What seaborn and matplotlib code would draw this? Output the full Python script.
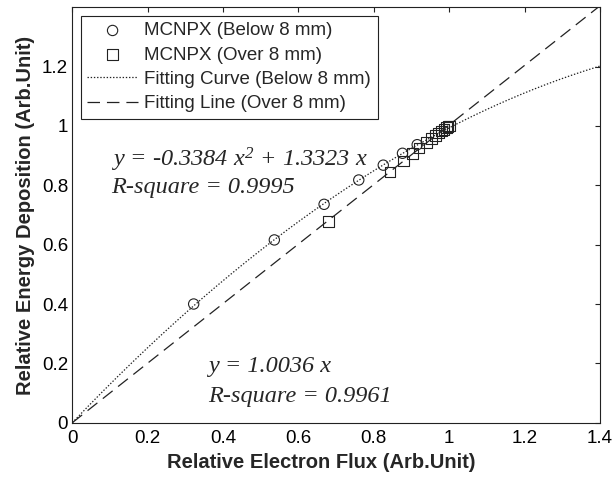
import numpy as np
import pandas as pd
import matplotlib
matplotlib.use("Agg")
import matplotlib.pyplot as plt
import seaborn as sns

# Simulated points, depth below 8 mm
below_flux = [0.322, 0.536, 0.668, 0.760, 0.825, 0.876, 0.915]
below_dep = [0.400, 0.616, 0.736, 0.818, 0.868, 0.908, 0.937]

# Simulated points, depth over 8 mm
over_flux = [0.680, 0.843, 0.878, 0.903, 0.920, 0.940, 0.953, 0.963,
             0.972, 0.980, 0.986, 0.992, 0.997, 1.000]
over_dep = [0.678, 0.845, 0.882, 0.906, 0.926, 0.945, 0.958, 0.968,
            0.976, 0.983, 0.989, 0.995, 0.999, 1.000]

# Fit coefficients
quad_a, quad_b = -0.3384, 1.3323
lin_k = 1.0036

x_ticks = [0, 0.2, 0.4, 0.6, 0.8, 1.0, 1.2, 1.4]
x_tick_labels = ["0", "0.2", "0.4", "0.6", "0.8", "1", "1.2", "1.4"]
y_ticks = [0, 0.2, 0.4, 0.6, 0.8, 1.0, 1.2]
y_tick_labels = ["0", "0.2", "0.4", "0.6", "0.8", "1", "1.2"]

sns.set_theme(style="white")
plt.rcParams["font.family"] = ["Liberation Sans", "DejaVu Sans"]
plt.rcParams["lines.scale_dashes"] = False
plt.rcParams["mathtext.fontset"] = "custom"
plt.rcParams["mathtext.rm"] = "Liberation Serif:italic"
plt.rcParams["mathtext.it"] = "Liberation Serif:italic"

fig = plt.figure(figsize=(6.13, 4.78), dpi=100)
ax = fig.add_axes([72.3 / 613, 1 - 422.7 / 478, (600 - 72.3) / 613, (422.7 - 7.3) / 478])

df_below = pd.DataFrame({"flux": below_flux, "dep": below_dep})
df_over = pd.DataFrame({"flux": over_flux, "dep": over_dep})
xs = np.linspace(0, 1.4, 300)
df_curve = pd.DataFrame({"flux": xs, "dep": quad_a * xs ** 2 + quad_b * xs})
df_line = pd.DataFrame({"flux": xs, "dep": lin_k * xs})

ink = "#222222"
sns.scatterplot(data=df_below, x="flux", y="dep", ax=ax, marker="o", s=55,
                facecolor="none", edgecolor=ink, linewidth=0.8,
                label="MCNPX (Below 8 mm)", zorder=3)
sns.scatterplot(data=df_over, x="flux", y="dep", ax=ax, marker="s", s=60,
                facecolor="none", edgecolor=ink, linewidth=0.8,
                label="MCNPX (Over 8 mm)", zorder=3)
sns.lineplot(data=df_curve, x="flux", y="dep", ax=ax, color=ink, linewidth=0.9,
             dashes=False, label="Fitting Curve (Below 8 mm)", zorder=2)
sns.lineplot(data=df_line, x="flux", y="dep", ax=ax, color=ink, linewidth=0.9,
             label="Fitting Line (Over 8 mm)", zorder=2)
ax.lines[0].set_dashes([1.0, 1.3])
ax.lines[1].set_dashes([9, 5])

ax.set_xlim(0, 1.4)
ax.set_ylim(0, 1.4)
ax.set_xticks(x_ticks)
ax.set_xticklabels(x_tick_labels)
ax.set_yticks(y_ticks)
ax.set_yticklabels(y_tick_labels)
ax.tick_params(direction="in", length=3.6, width=0.8, color=ink,
               top=True, right=True, labelsize=13.5, labelcolor="black")
ax.tick_params(axis="x", pad=5)
ax.tick_params(axis="y", pad=3)
for sp in ax.spines.values():
    sp.set_color(ink)
    sp.set_linewidth(0.8)

ax.set_xlabel("Relative Electron Flux (Arb.Unit)", fontsize=14.5,
              fontweight="bold")
ax.xaxis.set_label_coords(0.471, -0.072)
ax.set_ylabel("Relative Energy Deposition (Arb.Unit)", fontsize=14.5,
              fontweight="bold", labelpad=5)

leg = ax.legend(loc="upper left", bbox_to_anchor=(8.4 / 527.7, 1 - 8.4 / 415.4),
                borderaxespad=0, fontsize=13.5, frameon=True, fancybox=False,
                framealpha=1, edgecolor=ink, handlelength=2.7,
                handletextpad=0.35, labelspacing=0.38, borderpad=0.35)
leg.get_frame().set_linewidth(0.8)

serif = ["Liberation Serif", "DejaVu Serif"]
ax.text(0.102, 0.885, "y = -0.3384 $x^{2}$ + 1.3323 x", fontsize=17.5,
        family=serif, style="italic", va="center", ha="left")
ax.text(0.102, 0.793, "R-square = 0.9995", fontsize=17.5,
        family=serif, style="italic", va="center", ha="left")
ax.text(0.36, 0.188, "y = 1.0036 x", fontsize=17.5,
        family=serif, style="italic", va="center", ha="left")
ax.text(0.36, 0.088, "R-square = 0.9961", fontsize=17.5,
        family=serif, style="italic", va="center", ha="left")

fig.savefig("out.png", dpi=100)
